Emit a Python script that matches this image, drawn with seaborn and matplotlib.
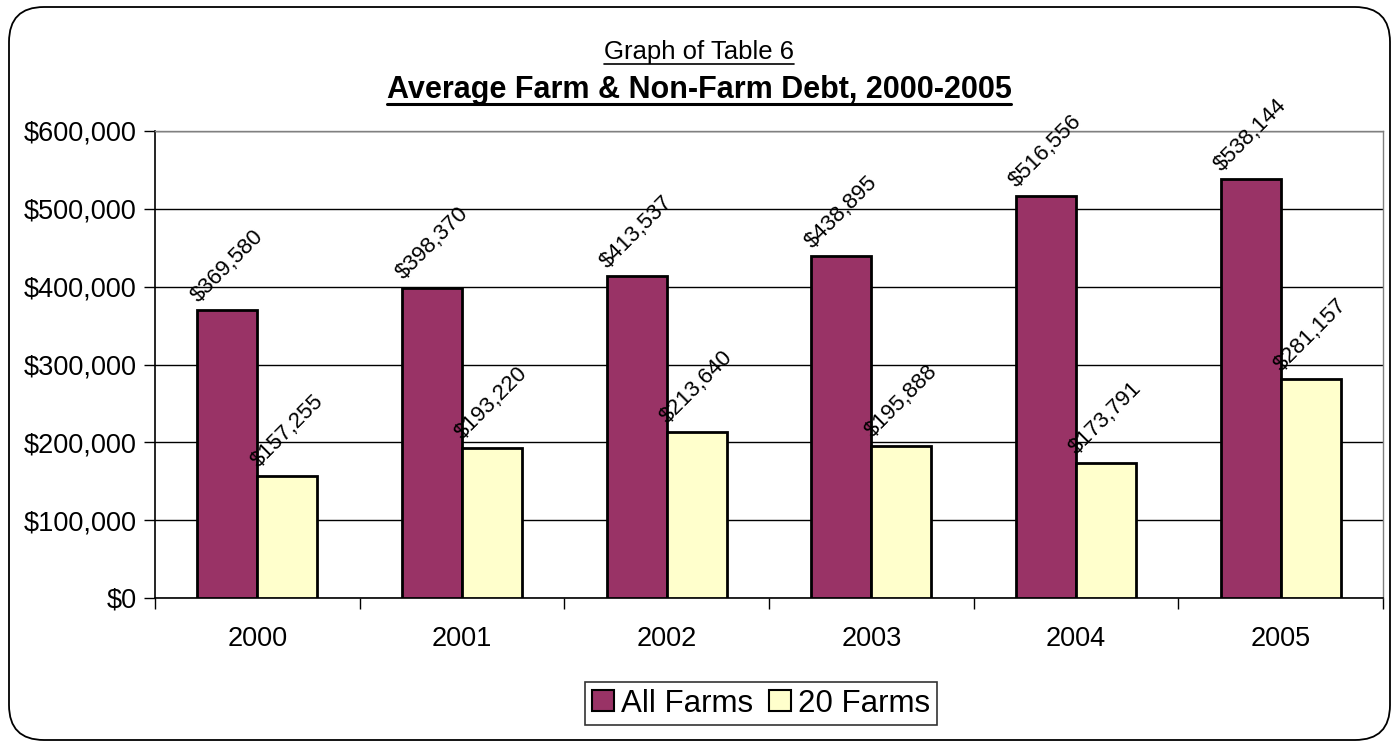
import matplotlib
matplotlib.use("Agg")
import matplotlib.pyplot as plt
import seaborn as sns
import pandas as pd
import numpy as np
from matplotlib.patches import FancyBboxPatch
from matplotlib.lines import Line2D
from matplotlib.ticker import FuncFormatter, MultipleLocator, FixedLocator

years = ["2000", "2001", "2002", "2003", "2004", "2005"]
all_farms = [369580, 398370, 413537, 438895, 516556, 538144]
twenty_farms = [157255, 193220, 213640, 195888, 173791, 281157]
series_names = ["All Farms", "20 Farms"]
series_colors = ["#993366", "#FFFFCC"]

df = pd.DataFrame({
    "Year": years * 2,
    "Debt": all_farms + twenty_farms,
    "Group": [series_names[0]] * len(years) + [series_names[1]] * len(years),
})

sns.set_theme(style="white")
plt.rcParams["font.family"] = ["Liberation Sans", "DejaVu Sans"]
plt.rcParams["text.color"] = "black"

W, H = 1398, 747
fig = plt.figure(figsize=(W / 100, H / 100), dpi=100)
fig.patch.set_facecolor("white")

# rounded outer border
frame = FancyBboxPatch((9 / W, 7 / H), (1390 - 9) / W, (740 - 7) / H,
                       boxstyle="round,pad=0,rounding_size=0.025",
                       transform=fig.transFigure, facecolor="none",
                       edgecolor="black", linewidth=1.3, zorder=10,
                       mutation_aspect=W / H)
fig.patches.append(frame)

ax = fig.add_axes([155 / W, 1 - 598 / H, (1383 - 155) / W, (598 - 131) / H])
ax.set_facecolor("white")

sns.barplot(data=df, x="Year", y="Debt", hue="Group", order=years,
            hue_order=series_names, palette=series_colors, width=0.585,
            edgecolor="black", linewidth=2, saturation=1, ax=ax, zorder=3,
            legend=True)

ax.set_ylim(0, 600000)
ax.set_xlim(-0.5, len(years) - 0.5)
ax.yaxis.set_major_locator(MultipleLocator(100000))
ax.yaxis.set_major_formatter(FuncFormatter(lambda v, p: f"${v:,.0f}"))
ax.grid(axis="y", color="black", linewidth=1, zorder=0)
ax.set_axisbelow(True)
ax.set_xlabel("")
ax.set_ylabel("")

# category separators as tick marks on the x axis
ax.xaxis.set_minor_locator(FixedLocator(np.arange(-0.5, len(years), 1.0)))
ax.tick_params(axis="x", which="major", length=0, pad=20, labelsize=19.5,
               colors="black")
ax.tick_params(axis="x", which="minor", length=8, width=1, direction="out",
               colors="black", bottom=True)
ax.tick_params(axis="y", which="major", length=8, width=1, direction="out",
               pad=5, labelsize=19.5, colors="black", left=True)

for side in ["left", "bottom"]:
    ax.spines[side].set_color("black")
    ax.spines[side].set_linewidth(1.2)
for side in ["top", "right"]:
    ax.spines[side].set_color("#808080")
    ax.spines[side].set_linewidth(1)

# value labels above every bar
for container, vals in zip(ax.containers, [all_farms, twenty_farms]):
    ax.bar_label(container, labels=[f"${v:,.0f}" for v in vals],
                 rotation=45, padding=3, fontsize=16, color="black", zorder=5)

# legend
leg_handles = [plt.Rectangle((0, 0), 1, 1, facecolor=c, edgecolor="black",
                             linewidth=1.5) for c in series_colors]
leg = ax.legend(leg_handles, series_names, loc="center",
                bbox_to_anchor=(761 / W, 1 - 703.5 / H),
                bbox_transform=fig.transFigure, ncol=2, frameon=True,
                fancybox=False, edgecolor="black", fontsize=22.5,
                labelcolor="black", handlelength=0.72, handleheight=0.62,
                handletextpad=0.22, columnspacing=0.5, borderpad=0.22,
                borderaxespad=0)
leg.get_frame().set_linewidth(1.2)
leg.get_frame().set_edgecolor("black")

# titles with underlines
t1 = fig.text(0.5, 1 - 59 / H, "Graph of Table 6", ha="center",
              va="baseline", fontsize=18.5, color="black")
t2 = fig.text(0.5, 1 - 98 / H, "Average Farm & Non-Farm Debt, 2000-2005",
              ha="center", va="baseline", fontsize=22, fontweight="bold",
              color="black")
fig.canvas.draw()
renderer = fig.canvas.get_renderer()
inv = fig.transFigure.inverted()
for t, ypix, lw in [(t1, 64, 1.2), (t2, 104, 2.2)]:
    bb = t.get_window_extent(renderer)
    x0 = inv.transform((bb.x0, 0))[0]
    x1 = inv.transform((bb.x1, 0))[0]
    yl = 1 - ypix / H
    fig.add_artist(Line2D([x0, x1], [yl, yl], transform=fig.transFigure,
                          color="black", linewidth=lw))

fig.savefig("out.png", dpi=100, facecolor="white")
